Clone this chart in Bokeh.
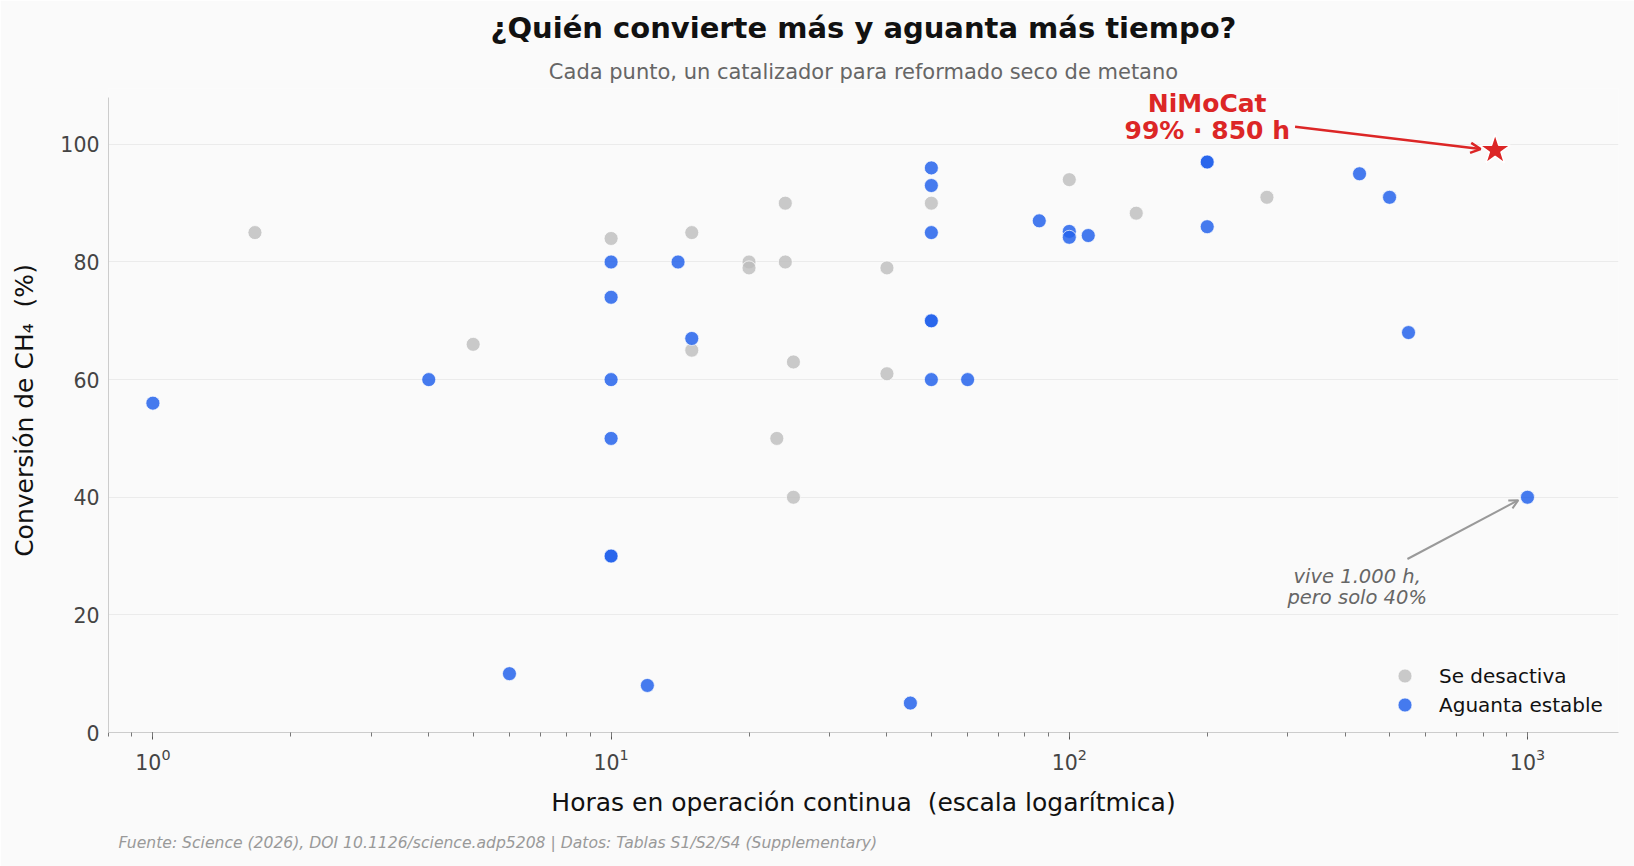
from bokeh.plotting import figure
from bokeh.models import (Title, Label, Arrow, OpenHead, FixedTicker, ColumnDataSource,
                          Legend, LegendItem)
from bokeh.embed import file_html
from bokeh.resources import INLINE

# ---------------- data ----------------
hours_desactiva = [1.67, 5, 10, 15, 15, 20, 20, 24, 24, 25, 23, 25, 40, 40, 50, 100, 140, 270]
conv_desactiva = [85, 66, 84, 85, 65, 80, 79, 90, 80, 63, 50, 40, 79, 61, 90, 94, 88.3, 91]

hours_estable = [1, 4, 6, 10, 10, 10, 10, 10, 10, 12, 14, 15,
                 50, 50, 50, 50, 50, 50, 60, 45, 86, 100, 100, 110,
                 200, 200, 200, 430, 500, 550, 1000]
conv_estable = [56, 60, 10, 80, 74, 60, 50, 30, 30, 8, 80, 67,
                96, 93, 85, 70, 70, 60, 60, 5, 87, 85.2, 84.2, 84.5,
                97, 97, 86, 95, 91, 68, 40]

star_hours = [850]
star_conv = [99]

title_text = "¿Quién convierte más y aguanta más tiempo?"
subtitle_text = "Cada punto, un catalizador para reformado seco de metano"
xlabel_text = "Horas en operación continua\u00a0 (escala logarítmica)"
ylabel_text = "Conversión de CH₄\u00a0 (%)"
footer_text = "Fuente: Science (2026), DOI 10.1126/science.adp5208 | Datos: Tablas S1/S2/S4 (Supplementary)"
legend_labels = ["Se desactiva", "Aguanta estable"]
y_ticks = [0, 20, 40, 60, 80, 100]

FONT = "DejaVu Sans"
BG = "#fafafa"
GRAY = "#bdbdbd"
BLUE = "#2563eb"
RED = "#dc2626"

p = figure(width=1634, height=866, x_axis_type="log",
           x_range=(0.8, 1580), y_range=(0, 109.5),
           output_backend="svg", toolbar_location=None,
           background_fill_color=BG, border_fill_color=BG,
           min_border_left=108, min_border_right=16,
           min_border_top=88, min_border_bottom=134)
p.outline_line_color = None

# titles
sub = Title(text=subtitle_text, align="center", text_font=FONT, text_font_size="21px",
            text_font_style="normal", text_color="#666666", standoff=9)
main = Title(text=title_text, align="center", text_font=FONT, text_font_size="29px",
             text_font_style="bold", text_color="#111111", standoff=17)
p.add_layout(sub, "above")
p.add_layout(main, "above")
foot = Title(text=footer_text, align="left", text_font=FONT, text_font_size="15.6px",
             text_font_style="italic", text_color="#999999", offset=10, standoff=24)
p.add_layout(foot, "below")

# scatter
src_d = ColumnDataSource(dict(x=hours_desactiva, y=conv_desactiva))
src_e = ColumnDataSource(dict(x=hours_estable, y=conv_estable))
r_d = p.scatter("x", "y", source=src_d, size=14, fill_color=GRAY, fill_alpha=0.8,
                line_color="white", line_width=0.8, line_alpha=0.9)
r_e = p.scatter("x", "y", source=src_e, size=14, fill_color=BLUE, fill_alpha=0.85,
                line_color="white", line_width=0.8, line_alpha=0.9)
p.scatter(star_hours, star_conv, marker="star", size=32, fill_color=RED,
          line_color="white", line_width=1.5)

# annotations
p.add_layout(Arrow(end=OpenHead(size=10, line_color=RED, line_width=2.5),
                   x_start=311, y_start=103.0, x_end=790, y_end=99.2,
                   line_color=RED, line_width=2.5))
p.add_layout(Label(x=200, y=106.9, text="NiMoCat", text_font=FONT, text_font_size="25px",
                   text_font_style="bold", text_color=RED, text_align="center",
                   text_baseline="alphabetic"))
p.add_layout(Label(x=200, y=102.3, text="99% · 850 h", text_font=FONT, text_font_size="25px",
                   text_font_style="bold", text_color=RED, text_align="center",
                   text_baseline="alphabetic"))

p.add_layout(Arrow(end=OpenHead(size=9, line_color="#999999", line_width=2),
                   x_start=547, y_start=29.5, x_end=955, y_end=39.5,
                   line_color="#999999", line_width=2))
p.add_layout(Label(x=425, y=26.6, text="vive 1.000 h,", text_font=FONT, text_font_size="19.5px",
                   text_font_style="italic", text_color="#666666", text_align="center",
                   text_baseline="alphabetic"))
p.add_layout(Label(x=425, y=22.9, text="pero solo 40%", text_font=FONT, text_font_size="19.5px",
                   text_font_style="italic", text_color="#666666", text_align="center",
                   text_baseline="alphabetic"))

# axes
xa = p.xaxis[0]
xa.axis_label = xlabel_text
xa.axis_label_text_font = FONT
xa.axis_label_text_font_size = "25px"
xa.axis_label_text_font_style = "normal"
xa.axis_label_text_color = "#111111"
xa.axis_label_standoff = 15
xa.major_label_text_font = FONT
xa.major_label_text_font_size = "20.5px"
xa.major_label_text_color = "#444444"
xa.major_label_standoff = 8
xa.axis_line_color = "#cccccc"
xa.major_tick_line_color = "#555555"
xa.minor_tick_line_color = "#777777"
xa.major_tick_out = 7
xa.major_tick_in = 0
xa.minor_tick_out = 4
xa.minor_tick_in = 0

ya = p.yaxis[0]
ya.ticker = FixedTicker(ticks=y_ticks)
ya.bounds = (0, 108)
ya.axis_label = ylabel_text
ya.axis_label_text_font = FONT
ya.axis_label_text_font_size = "25px"
ya.axis_label_text_font_style = "normal"
ya.axis_label_text_color = "#111111"
ya.axis_label_standoff = 18
ya.major_label_text_font = FONT
ya.major_label_text_font_size = "20.5px"
ya.major_label_text_color = "#444444"
ya.major_label_standoff = 9
ya.axis_line_color = "#cccccc"
ya.major_tick_out = 0
ya.major_tick_in = 0
ya.minor_tick_out = 0
ya.minor_tick_in = 0

p.xgrid.grid_line_color = None
p.ygrid.grid_line_color = "#ebebeb"
p.ygrid.grid_line_width = 1


def make_legend(label, renderer, loc):
    lg = Legend(items=[LegendItem(label=label, renderers=[renderer])], location=loc)
    lg.border_line_color = None
    lg.background_fill_alpha = 0
    lg.label_text_font = FONT
    lg.label_text_font_size = "20px"
    lg.label_text_color = "#111111"
    lg.glyph_width = 35
    lg.glyph_height = 35
    lg.label_standoff = 17
    lg.padding = 0
    lg.margin = 0
    return lg


p.add_layout(make_legend(legend_labels[0], r_d, (1279, 39)), "center")
p.add_layout(make_legend(legend_labels[1], r_e, (1279, 10)), "center")

open("out.html", "w").write(file_html(p, INLINE))
